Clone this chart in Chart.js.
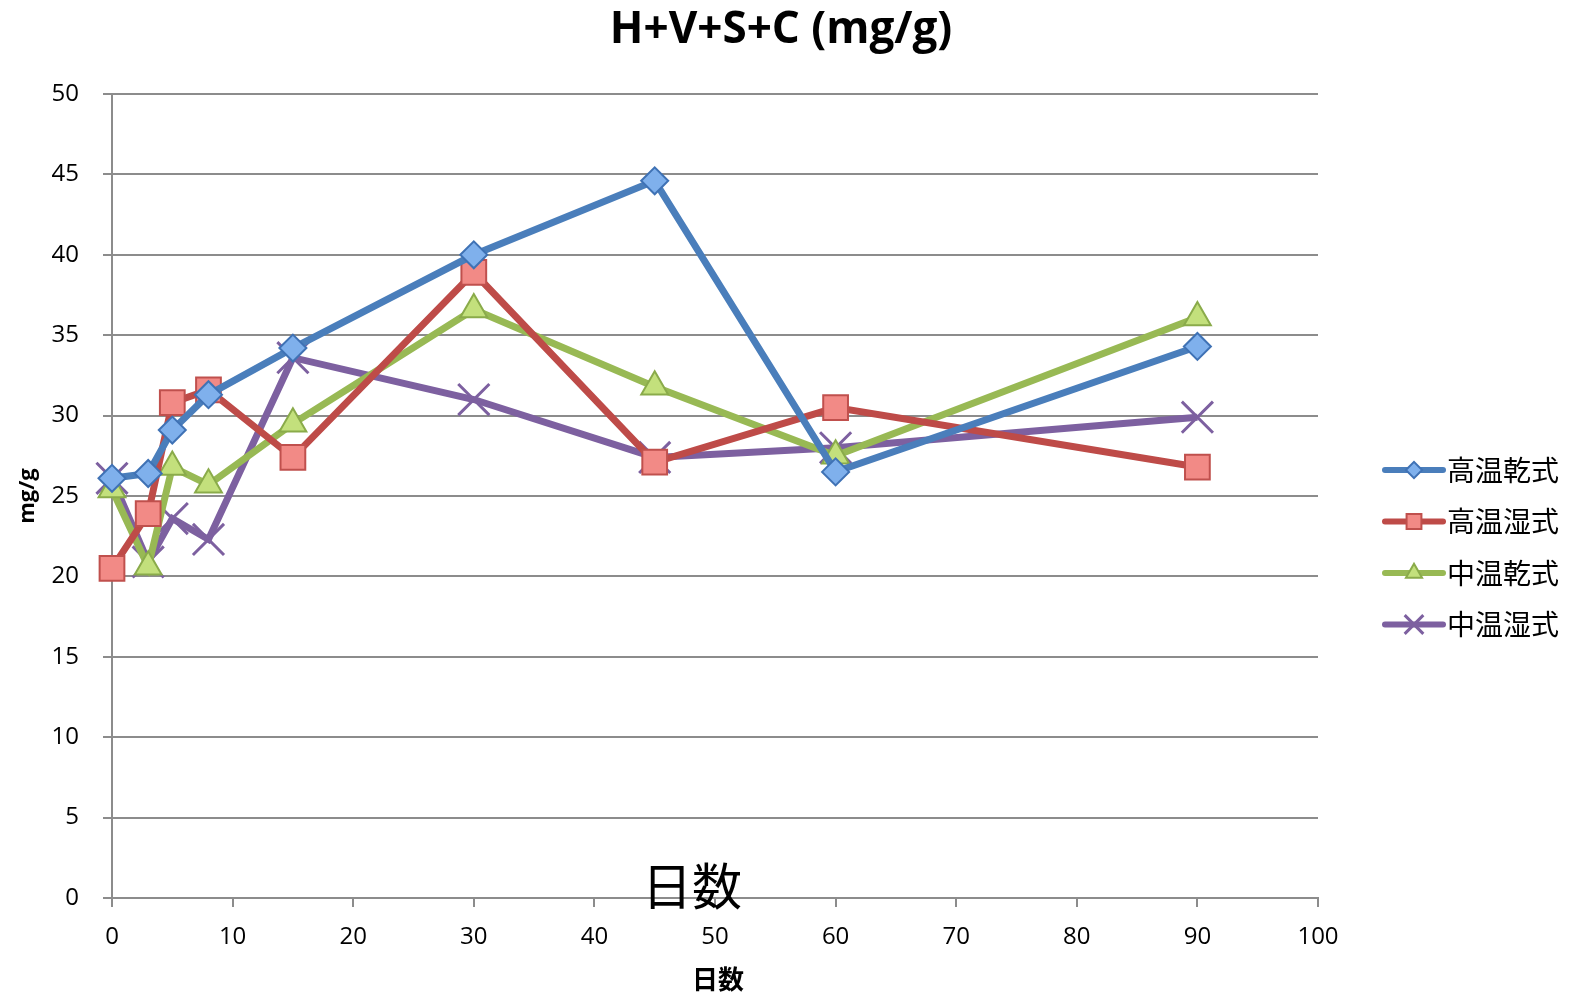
<!DOCTYPE html>
<html>
<head>
<meta charset="utf-8">
<script src="https://cdn.jsdelivr.net/npm/chart.js@4.4.1/dist/chart.umd.min.js"></script>
<style>
  body { margin: 0; background: #fff; }
  #wrap { width: 1569px; height: 1001px; }
</style>
</head>
<body>
<div id="wrap"><canvas id="chart" width="1569" height="1001"></canvas></div>
<script>
// 日数
var days = [0, 3, 5, 8, 15, 30, 45, 60, 90];

var seriesNames = ["高温乾式", "高温湿式", "中温乾式", "中温湿式"];
var kouonKanshiki = [26.1, 26.4, 29.1, 31.3, 34.2, 40.0, 44.6, 26.5, 34.3];
var kouonShisshiki = [20.5, 23.9, 30.8, 31.6, 27.4, 38.9, 27.1, 30.5, 26.8];
var chuonKanshiki = [25.4, 20.6, 26.8, 25.7, 29.5, 36.6, 31.8, 27.5, 36.1];
var chuonShisshiki = [26.1, 20.9, 23.6, 22.3, 33.6, 31.0, 27.4, 28.0, 29.9];

var xTicks = [0, 10, 20, 30, 40, 50, 60, 70, 80, 90, 100];
var yTicks = [0, 5, 10, 15, 20, 25, 30, 35, 40, 45, 50];

var chartTitle = "H+V+S+C (mg/g)";
var xTitle = "日数";
var yTitle = "mg/g";

var FONT = "'Open Sans', 'Noto Sans CJK JP', sans-serif";
var JFONT = "'Noto Sans CJK JP', sans-serif";

function toPoints(vals) {
    return days.map(function(d, i) { return { x: d, y: vals[i] }; });
}

var styles = [
    { line: "#4a7ebb", fill: "#7fb0ec", edge: "#3f72b5", shape: "rectRot", r: 13.5, bw: 2 },
    { line: "#be4b48", fill: "#f28a86", edge: "#c0504d", shape: "rect", r: 17.5, bw: 2 },
    { line: "#98b954", fill: "#c3e07c", edge: "#8aab4a", shape: "triangle", r: 15.5, bw: 2 },
    { line: "#7d60a0", fill: "#7d60a0", edge: "#7d60a0", shape: "crossRot", r: 22, bw: 3 }
];

var allVals = [kouonKanshiki, kouonShisshiki, chuonKanshiki, chuonShisshiki];
var datasets = allVals.map(function(v, i) {
    var s = styles[i];
    return {
        label: seriesNames[i],
        data: toPoints(v),
        showLine: true,
        clip: false,
        borderColor: s.line,
        borderWidth: 7,
        pointStyle: s.shape,
        pointRadius: s.r,
        pointHoverRadius: s.r,
        pointBackgroundColor: s.fill,
        pointBorderColor: s.edge,
        pointBorderWidth: s.bw,
        tension: 0
    };
});

// title, overlay text and legend drawn by hand
var extras = {
    id: 'extras',
    afterDraw: function(chart) {
        var ctx = chart.ctx;
        var area = chart.chartArea;
        ctx.save();
        ctx.fillStyle = "#000";
        ctx.textAlign = "center";
        ctx.textBaseline = "middle";
        ctx.font = "bold 44px " + FONT;
        ctx.fillText(chartTitle, 781, 30);

        ctx.font = "bold 26px " + JFONT;
        ctx.fillText(xTitle, 718, 979);

        ctx.save();
        ctx.translate(28, (area.top + area.bottom) / 2);
        ctx.rotate(-Math.PI / 2);
        ctx.font = "bold 22px " + FONT;
        ctx.fillText(yTitle, 0, 0);
        ctx.restore();

        ctx.font = "50px " + JFONT;
        ctx.fillText(xTitle, 692, 886);

        // legend
        var lx = 1385, ly = 470, gap = 51.5;
        chart.data.datasets.forEach(function(ds, i) {
            var y = ly + i * gap;
            ctx.strokeStyle = ds.borderColor;
            ctx.lineWidth = 6;
            ctx.lineCap = "round";
            ctx.beginPath();
            ctx.moveTo(lx, y);
            ctx.lineTo(lx + 58, y);
            ctx.stroke();
            ctx.lineCap = "butt";
            ctx.fillStyle = ds.pointBackgroundColor;
            ctx.strokeStyle = ds.pointBorderColor;
            ctx.lineWidth = ds.pointBorderWidth;
            Chart.helpers.drawPoint(ctx, {
                pointStyle: ds.pointStyle,
                radius: ds.pointRadius * 0.6,
                borderWidth: ds.pointBorderWidth
            }, lx + 29, y);
            ctx.fillStyle = "#000";
            ctx.textAlign = "left";
            ctx.font = "28px " + JFONT;
            ctx.fillText(ds.label, lx + 62, y);
        });
        ctx.restore();
    }
};

var ctx = document.getElementById("chart").getContext("2d");
window.myChart = new Chart(ctx, {
    type: "scatter",
    data: { datasets: datasets },
    options: {
        responsive: false,
        animation: false,
        layout: { padding: { top: 94, right: 251, left: 0, bottom: 0 } },
        plugins: { legend: { display: false }, title: { display: false }, tooltip: { enabled: false } },
        scales: {
            x: {
                type: "linear", min: 0, max: 100,
                afterBuildTicks: function(s) { s.ticks = xTicks.map(function(v) { return { value: v }; }); },
                afterFit: function(s) { s.height = 103; },
                grid: { drawOnChartArea: false, drawTicks: true, tickLength: 9, color: "#8c8c8c", lineWidth: 2 },
                border: { color: "#8c8c8c", width: 2 },
                ticks: { color: "#000", font: { family: FONT, size: 24 }, padding: 16, maxRotation: 0 }
            },
            y: {
                type: "linear", min: 0, max: 50,
                afterBuildTicks: function(s) { s.ticks = yTicks.map(function(v) { return { value: v }; }); },
                afterFit: function(s) { s.width = 112; },
                grid: { drawTicks: true, tickLength: 9, color: "#8c8c8c", lineWidth: 2 },
                border: { color: "#8c8c8c", width: 2 },
                ticks: { color: "#000", font: { family: FONT, size: 24 }, padding: 24 }
            }
        }
    },
    plugins: [extras]
});
</script>
</body>
</html>
